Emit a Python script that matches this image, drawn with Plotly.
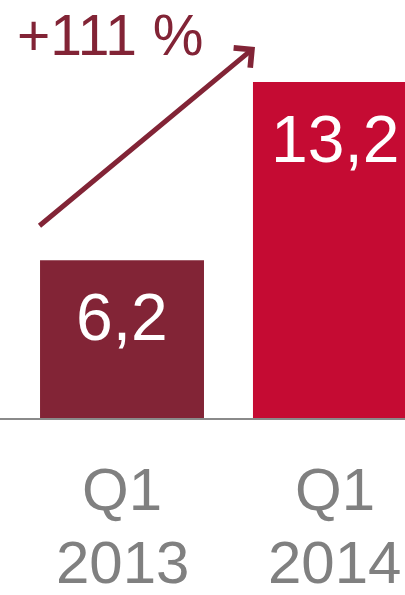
import plotly.graph_objects as go

categories = ["Q1<br>2013", "Q1<br>2014"]
values = [6.2, 13.2]
value_labels = ["6,2", "13,2"]
bar_colors = ["#822436", "#C50B33"]
growth_label = "+111 %"

FONT = "Liberation Sans"
x_idx = [0, 1]

fig = go.Figure()
fig.add_trace(go.Bar(
    x=x_idx, y=values, width=0.77,
    marker=dict(color=bar_colors, line=dict(width=0)),
    hoverinfo="skip",
))

annotations = []
for i, (v, lab) in enumerate(zip(values, value_labels)):
    annotations.append(dict(
        x=i, y=v, xref="x", yref="y", text=lab, showarrow=False,
        yanchor="top", xanchor="center", yshift=-18,
        font=dict(family=FONT, size=66, color="white"),
    ))
line_shifts = [-36, -109]
for i, cat in enumerate(categories):
    for line, shift in zip(cat.split("<br>"), line_shifts):
        annotations.append(dict(
            x=i, y=0, xref="x", yref="paper", text=line, showarrow=False,
            yanchor="top", xanchor="center", yshift=shift,
            font=dict(family=FONT, size=60, color="#808080"),
        ))
annotations.append(dict(
    x=15 / 405, y=1.0, xref="paper", yref="paper", text=growth_label,
    showarrow=False, xanchor="left", yanchor="top", yshift=-1,
    font=dict(family=FONT, size=57, color="#822436"),
))
annotations.append(dict(
    x=255 / 405, y=(418 - 47) / 418, xref="paper", yref="paper", text="",
    showarrow=True, ax=38 - 255, ay=227 - 47,
    arrowhead=4, arrowsize=1, arrowwidth=5, arrowcolor="#822436",
))

fig.update_layout(
    width=405, height=595,
    margin=dict(l=0, r=0, t=0, b=177),
    paper_bgcolor="white", plot_bgcolor="white",
    showlegend=False,
    xaxis=dict(range=[-0.573, 1.329], showgrid=False, zeroline=False,
               showticklabels=False, showline=True, linecolor="#8A8A8A",
               linewidth=2, fixedrange=True),
    yaxis=dict(range=[0, 16.42], showgrid=False, zeroline=False,
               showticklabels=False, showline=False, fixedrange=True),
    annotations=annotations,
)

fig.write_html(
    "out.html",
    config={"displayModeBar": False},
    post_script="document.body.style.margin='0';document.body.style.overflow='hidden';",
)
